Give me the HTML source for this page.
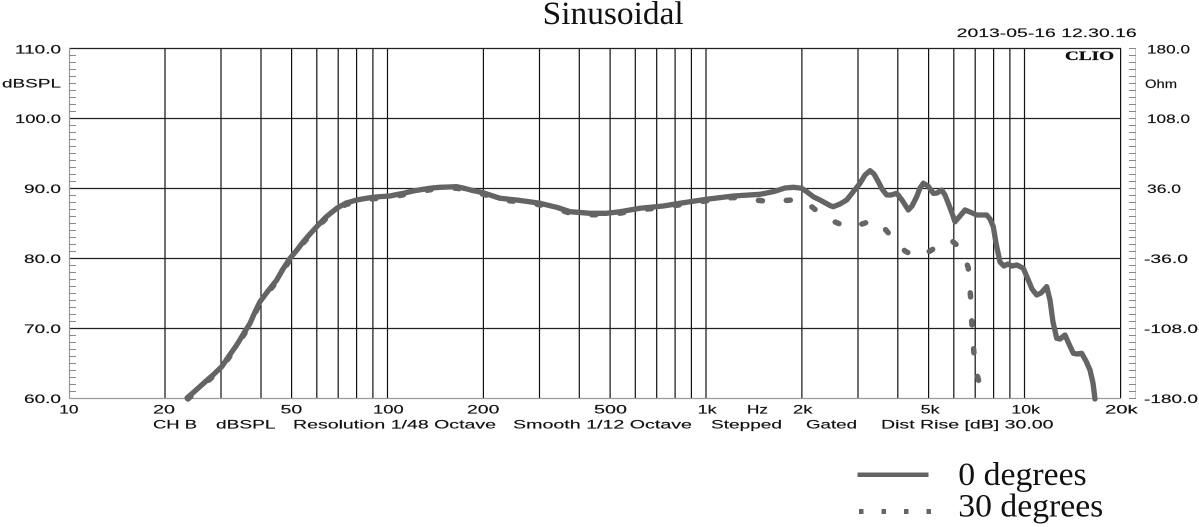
<!DOCTYPE html>
<html><head><meta charset="utf-8"><style>
html,body{margin:0;padding:0;background:#fff;}
svg{display:block;}
.t{font-family:"Liberation Sans",Arial,sans-serif;font-size:12px;fill:#111;stroke:#111;stroke-width:0.15;}
.s{font-family:"Liberation Serif","Times New Roman",serif;fill:#111;}
</style></head><body>
<svg width="1199" height="527" viewBox="0 0 1199 527" xmlns="http://www.w3.org/2000/svg">
<rect width="1199" height="527" fill="#fff"/>
<text class="s" x="542.7" y="24" font-size="33" textLength="141" lengthAdjust="spacingAndGlyphs">Sinusoidal</text>
<text class="t" x="956.7" y="37" textLength="180" lengthAdjust="spacingAndGlyphs">2013-05-16 12.30.16</text>
<g stroke="#111" stroke-width="1.2" fill="none">
<path d="M165 48V398M221 48V398M261 48V398M291.6 48V398M316.8 48V398M338.2 48V398M356.6 48V398M372.9 48V398M387.5 48V398M483.4 48V398M539.5 48V398M579.3 48V398M610.1 48V398M635.3 48V398M656.7 48V398M675.1 48V398M691.4 48V398M706 48V398M801.9 48V398M858 48V398M897.8 48V398M928.6 48V398M953.8 48V398M975.2 48V398M993.6 48V398M1009.9 48V398M1024.5 48V398M1120.6 48V398"/>
<path d="M69 48.5H1121M69 118.5H1121M69 188.5H1121M69 258.5H1121M69 328.5H1121" stroke="#222"/>
</g>
<path d="M69.5 48V398.5H1121" stroke="#9a9a9a" stroke-width="1.2" fill="none"/>
<path d="M1135.5 48V398.5" stroke="#c8c8c8" stroke-width="1" fill="none"/>
<g stroke="#888" stroke-width="1">
<path d="M69 55.5h7M69 62.5h7M69 69.5h7M69 76.5h7M69 83.5h7M69 90.5h7M69 97.5h7M69 104.5h7M69 111.5h7M69 125.5h7M69 132.5h7M69 139.5h7M69 146.5h7M69 153.5h7M69 160.5h7M69 167.5h7M69 174.5h7M69 181.5h7M69 195.5h7M69 202.5h7M69 209.5h7M69 216.5h7M69 223.5h7M69 230.5h7M69 237.5h7M69 244.5h7M69 251.5h7M69 265.5h7M69 272.5h7M69 279.5h7M69 286.5h7M69 293.5h7M69 300.5h7M69 307.5h7M69 314.5h7M69 321.5h7M69 335.5h7M69 342.5h7M69 349.5h7M69 356.5h7M69 363.5h7M69 370.5h7M69 377.5h7M69 384.5h7M69 391.5h7"/>
<path d="M1129 48.5h7M1129 55.5h7M1129 62.5h7M1129 69.5h7M1129 76.5h7M1129 83.5h7M1129 90.5h7M1129 97.5h7M1129 104.5h7M1129 111.5h7M1129 118.5h7M1129 125.5h7M1129 132.5h7M1129 139.5h7M1129 146.5h7M1129 153.5h7M1129 160.5h7M1129 167.5h7M1129 174.5h7M1129 181.5h7M1129 188.5h7M1129 195.5h7M1129 202.5h7M1129 209.5h7M1129 216.5h7M1129 223.5h7M1129 230.5h7M1129 237.5h7M1129 244.5h7M1129 251.5h7M1129 258.5h7M1129 265.5h7M1129 272.5h7M1129 279.5h7M1129 286.5h7M1129 293.5h7M1129 300.5h7M1129 307.5h7M1129 314.5h7M1129 321.5h7M1129 328.5h7M1129 335.5h7M1129 342.5h7M1129 349.5h7M1129 356.5h7M1129 363.5h7M1129 370.5h7M1129 377.5h7M1129 384.5h7M1129 391.5h7M1129 398.5h7"/>
</g>
<text x="1065" y="59.8" font-family="Liberation Serif,serif" font-weight="bold" font-size="13" fill="#111" stroke="#111" stroke-width="0.3" textLength="49" lengthAdjust="spacingAndGlyphs">CLIO</text>
<text class="t" x="15" y="53.5" textLength="46" lengthAdjust="spacingAndGlyphs">110.0</text>
<text class="t" x="2" y="87.3" textLength="59" lengthAdjust="spacingAndGlyphs">dBSPL</text>
<text class="t" x="15" y="123" textLength="46" lengthAdjust="spacingAndGlyphs">100.0</text>
<text class="t" x="24" y="193" textLength="37" lengthAdjust="spacingAndGlyphs">90.0</text>
<text class="t" x="24" y="263" textLength="37" lengthAdjust="spacingAndGlyphs">80.0</text>
<text class="t" x="24" y="333" textLength="37" lengthAdjust="spacingAndGlyphs">70.0</text>
<text class="t" x="24" y="403" textLength="37" lengthAdjust="spacingAndGlyphs">60.0</text>
<text class="t" x="1147" y="53.5" textLength="43" lengthAdjust="spacingAndGlyphs">180.0</text>
<text class="t" x="1145" y="88" textLength="32" lengthAdjust="spacingAndGlyphs">Ohm</text>
<text class="t" x="1147" y="123" textLength="43" lengthAdjust="spacingAndGlyphs">108.0</text>
<text class="t" x="1147" y="193" textLength="34" lengthAdjust="spacingAndGlyphs">36.0</text>
<text class="t" x="1144" y="263" textLength="44" lengthAdjust="spacingAndGlyphs">-36.0</text>
<text class="t" x="1144" y="333" textLength="54" lengthAdjust="spacingAndGlyphs">-108.0</text>
<text class="t" x="1144" y="403" textLength="54" lengthAdjust="spacingAndGlyphs">-180.0</text>
<text class="t" x="59.3" y="413.5" textLength="19.2" lengthAdjust="spacingAndGlyphs">10</text>
<text class="t" x="153" y="413.5" textLength="22" lengthAdjust="spacingAndGlyphs">20</text>
<text class="t" x="280.5" y="413.5" textLength="21.8" lengthAdjust="spacingAndGlyphs">50</text>
<text class="t" x="373" y="413.5" textLength="30.7" lengthAdjust="spacingAndGlyphs">100</text>
<text class="t" x="467" y="413.5" textLength="32.4" lengthAdjust="spacingAndGlyphs">200</text>
<text class="t" x="594" y="413.5" textLength="33" lengthAdjust="spacingAndGlyphs">500</text>
<text class="t" x="697.6" y="413.5" textLength="19" lengthAdjust="spacingAndGlyphs">1k</text>
<text class="t" x="747" y="413.5" textLength="21" lengthAdjust="spacingAndGlyphs">Hz</text>
<text class="t" x="793" y="413.5" textLength="19.4" lengthAdjust="spacingAndGlyphs">2k</text>
<text class="t" x="920.7" y="413.5" textLength="19" lengthAdjust="spacingAndGlyphs">5k</text>
<text class="t" x="1011.4" y="413.5" textLength="28.6" lengthAdjust="spacingAndGlyphs">10k</text>
<text class="t" x="1105" y="413.5" textLength="32.7" lengthAdjust="spacingAndGlyphs">20k</text>
<text class="t" x="153" y="428.5" textLength="44" lengthAdjust="spacingAndGlyphs">CH B</text>
<text class="t" x="216" y="428.5" textLength="59.5" lengthAdjust="spacingAndGlyphs">dBSPL</text>
<text class="t" x="293" y="428.5" textLength="203" lengthAdjust="spacingAndGlyphs">Resolution 1/48 Octave</text>
<text class="t" x="513" y="428.5" textLength="179" lengthAdjust="spacingAndGlyphs">Smooth 1/12 Octave</text>
<text class="t" x="711" y="428.5" textLength="71" lengthAdjust="spacingAndGlyphs">Stepped</text>
<text class="t" x="806" y="428.5" textLength="51" lengthAdjust="spacingAndGlyphs">Gated</text>
<text class="t" x="881" y="428.5" textLength="172.5" lengthAdjust="spacingAndGlyphs">Dist Rise [dB] 30.00</text>
<polyline fill="none" stroke="#666" stroke-width="5.5" stroke-linecap="round" stroke-linejoin="round" stroke-dasharray="4 24"
points="188,399 195,392.5 205,383.5 213,376.5 221.7,368 229,357.5 236.7,346.5 244,334.5 250,325 255,313.5 260,303 268,292.5 276.7,281.5 283,270.5 290,260 297,251.5 303.3,243 310,235.5 316.7,228 326,218.5 336.7,209.5 346,204.5 356.7,201.5 365,200 373.3,198.8 382,198 390,197.5 397,196 403.3,194.8 413,192.5 423.3,190.8 432,189.5 440,188.8 448,188.5 456.7,188.2 465,190 473.3,192.2 483.3,194.2 490,196.5 500,199.8 516.7,201.5 540,204.8 556.7,208.8 570,213.2 590,214.8 606.7,214.8 620,213.2 640,209.8 663.3,207.5 680,204.8 706.7,200.8 733,197.5 741.7,198.3 755,200 771,201.7 785,200.5 801,199.3 812,207 823.3,216 835,222 848.3,227.3 862,224 874.3,220 885,229 895,240.7 905,251 916.7,257.3 925,254 931.7,250 940,244 950,239.3 958,246 965,258 968.3,268 970.7,298.3 972.3,332.7 975,366.7 980,386 986,396 988,402"/>
<polyline fill="none" stroke="#646464" stroke-width="5.3" stroke-linecap="round" stroke-linejoin="round"
points="187,398 195,391 205,382 213,375 221.7,366.7 229,356 236.7,345 244,333 250,323.3 255,312 260,301.7 268,291 276.7,280 283,269 290,258.3 297,250 303.3,241.7 310,234 316.7,226.7 326,217 336.7,208.3 346,203 356.7,200 365,198.5 373.3,197.3 382,196.5 390,196 397,194.5 403.3,193.3 413,191 423.3,189.3 432,188 440,187.3 448,187 456.7,186.7 465,188.5 473.3,190.7 483.3,192.7 490,195 500,198.3 516.7,200 540,203.3 556.7,207.3 570,211.7 590,213.3 606.7,213.3 620,211.7 640,208.3 663.3,206 680,203.3 706.7,199.3 733.3,196 760,194.3 773.3,191.7 785,188 793.3,187.3 801.7,188.3 806.7,191.7 813.3,196.7 820,200 830,205.5 833.3,206.7 840,204 846.7,200 853,192 860,183.3 865,175 870,170.7 874,174 878.3,181.7 882,189 886.7,195 891,195 896.7,193.3 902,200 908.3,210 912,206 916.7,196.7 920,188 923.3,183.3 928,186 933.3,193.3 937,193 941.7,190 945,195 948.3,203.3 952,213 955,221.7 960,216 965,210 970,212 976.7,215 986.7,215 990,219 993.3,226.7 996,243 1000,262 1004,266 1008,264 1012,266 1017,265 1023.3,268.3 1027,277 1032,289 1036.7,295 1041,293 1046.7,286.7 1050,300 1053,322 1056.7,338.3 1060,339 1065,335 1069,344 1073.3,353.3 1077,354 1081.7,353.3 1086,361 1090,370 1093,383 1095,399"/>
<line x1="857.5" y1="474.7" x2="928.5" y2="474.7" stroke="#646464" stroke-width="4.5"/>
<line x1="859" y1="511.5" x2="931" y2="511.5" stroke="#666" stroke-width="5" stroke-dasharray="4.5 18"/>
<text class="s" x="958.3" y="485" font-size="33" textLength="128.4" lengthAdjust="spacingAndGlyphs">0 degrees</text>
<text class="s" x="958.3" y="516.7" font-size="33" textLength="145" lengthAdjust="spacingAndGlyphs">30 degrees</text>
</svg>
</body></html>
